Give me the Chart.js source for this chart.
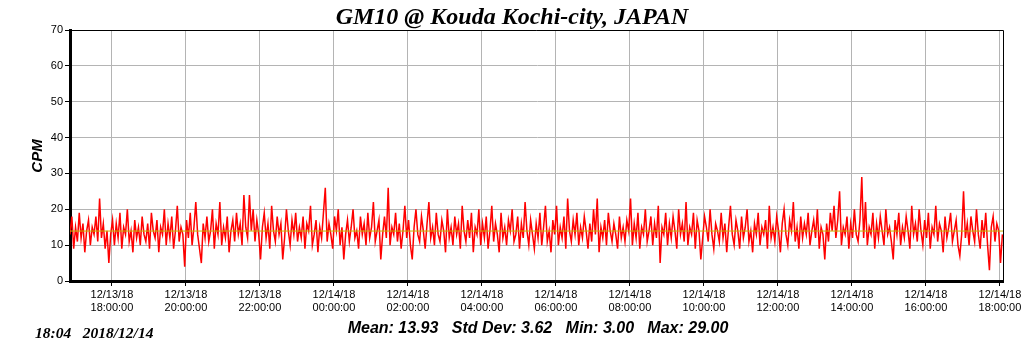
<!DOCTYPE html>
<html>
<head>
<meta charset="utf-8">
<script src="https://cdn.jsdelivr.net/npm/chart.js@4"></script>
<style>
  html, body { margin: 0; padding: 0; background: #fff; }
  #wrap { width: 1024px; height: 351px; }
</style>
</head>
<body>
<div id="wrap"><canvas id="cpmChart" width="1024" height="351"></canvas></div>
<script>
// minutes relative to 12/13/18 18:00:00, one reading every 3 minutes
const startMinute = -68;
const stepMinutes = 3;
const cpmValues = [
  13,18,9,15,11,19,12,16,8,14,17,10,15,13,18,11,23,12,16,9,14,5,13,17,10,
  16,12,19,9,15,13,20,11,14,8,17,12,15,10,18,13,11,16,9,19,14,12,17,8,15,
  13,20,10,16,12,18,9,14,21,11,15,13,4,17,12,19,10,15,22,13,9,5,16,12,18,
  11,14,20,9,16,13,22,10,15,12,18,8,14,17,11,19,13,16,10,24,15,12,24,14,20,
  11,17,13,6,15,19,12,16,9,21,14,11,18,13,16,6,12,20,14,10,17,13,19,11,15,
  12,18,9,16,14,21,10,13,17,8,15,12,19,26,11,16,13,9,18,14,20,10,15,6,13,
  17,11,15,20,12,14,9,18,13,16,10,19,12,15,22,11,14,17,6,13,18,12,26,10,15,
  13,19,11,16,9,14,21,12,17,10,6,15,20,13,11,18,14,9,16,22,12,15,10,19,13,
  11,17,14,8,20,12,15,10,18,13,16,9,21,14,11,17,12,19,8,15,13,20,10,16,12,
  18,9,14,21,11,16,13,8,19,12,15,10,17,14,20,11,13,18,9,16,12,22,14,10,17,
  13,9,16,12,19,10,15,21,11,14,8,17,13,21,10,15,12,18,9,23,14,11,17,13,19,
  10,15,12,18,14,9,16,11,20,13,23,8,15,12,17,10,19,14,11,16,13,9,18,12,15,
  11,17,14,23,10,16,12,19,9,15,13,20,11,14,18,10,16,12,21,5,15,13,19,10,16,
  12,18,14,9,20,13,16,11,22,10,15,13,19,9,17,14,6,12,18,15,11,20,13,9,16,
  14,11,19,12,16,8,15,21,13,10,17,14,9,18,12,15,20,11,14,8,16,13,19,10,15,
  13,17,9,21,12,15,11,18,14,8,16,20,13,10,17,14,22,11,15,9,18,12,16,13,19,
  10,14,17,12,20,9,15,13,6,16,11,19,14,21,12,17,25,10,15,13,18,9,16,12,20,
  13,11,17,29,12,22,10,15,13,19,9,16,12,18,14,10,20,13,15,11,6,17,13,19,10,
  15,12,18,14,9,21,13,16,11,20,14,10,17,12,19,9,15,13,21,11,16,14,8,18,12,
  15,19,11,14,17,10,7,13,25,12,16,10,18,14,11,20,13,9,17,12,19,10,3,15,18,
  11,16,14,5,13
];
const meanValue = 13.93;
const tickMinutes = [0, 120, 240, 360, 480, 600, 720, 840, 960, 1080, 1200, 1320, 1440];
const tickLabels = [
  ["12/13/18", "18:00:00"], ["12/13/18", "20:00:00"], ["12/13/18", "22:00:00"],
  ["12/14/18", "00:00:00"], ["12/14/18", "02:00:00"], ["12/14/18", "04:00:00"],
  ["12/14/18", "06:00:00"], ["12/14/18", "08:00:00"], ["12/14/18", "10:00:00"],
  ["12/14/18", "12:00:00"], ["12/14/18", "14:00:00"], ["12/14/18", "16:00:00"],
  ["12/14/18", "18:00:00"]
];
const xMin = -68;
const xMax = 1445;
const titleText = "GM10 @ Kouda Kochi-city, JAPAN";
const stampText = "18:04   2018/12/14";
const statsText = "Mean: 13.93   Std Dev: 3.62   Min: 3.00   Max: 29.00";

const points = cpmValues.map((v, i) => ({ x: startMinute + i * stepMinutes, y: v }));

Chart.defaults.font.family = '"Liberation Sans", Arial, sans-serif';
Chart.defaults.font.size = 11;
Chart.defaults.color = "#000";

// title, frame and text under the chart
const decor = {
  id: "decor",
  afterDraw(chart) {
    const ctx = chart.ctx;
    const a = chart.chartArea;
    ctx.save();
    ctx.strokeStyle = "#000";
    ctx.lineWidth = 1;
    ctx.beginPath();
    ctx.moveTo(a.left, a.top + 0.5);
    ctx.lineTo(a.right + 0.5, a.top + 0.5);
    ctx.lineTo(a.right + 0.5, a.bottom);
    ctx.stroke();

    ctx.fillStyle = "#000";
    ctx.textBaseline = "alphabetic";
    ctx.textAlign = "center";
    ctx.font = 'bold italic 24px "Liberation Serif"';
    ctx.fillText(titleText, 512, 24);

    ctx.font = 'bold italic 16px "Liberation Sans"';
    ctx.fillText(statsText, 538, 333);

    ctx.textAlign = "left";
    ctx.font = 'bold italic 15.5px "Liberation Serif"';
    ctx.fillText(stampText, 35, 338);

    ctx.translate(38, 156);
    ctx.rotate(-Math.PI / 2);
    ctx.textAlign = "center";
    ctx.textBaseline = "middle";
    ctx.font = 'bold italic 15px "Liberation Sans"';
    ctx.fillText("CPM", 0, 0);
    ctx.restore();
  }
};

new Chart(document.getElementById("cpmChart"), {
  type: "line",
  data: {
    datasets: [
      {
        data: [{ x: xMin, y: meanValue }, { x: xMax, y: meanValue }],
        borderColor: "rgb(200,180,0)",
        borderWidth: 1,
        pointRadius: 0,
        order: 0
      },
      {
        data: points,
        borderColor: "#ff0000",
        borderWidth: 1.5,
        pointRadius: 0,
        tension: 0,
        order: 1
      }
    ]
  },
  options: {
    responsive: false,
    animation: false,
    layout: { padding: { top: 30, right: 21, left: 0, bottom: 0 } },
    plugins: { legend: { display: false }, tooltip: { enabled: false } },
    scales: {
      x: {
        type: "linear",
        min: xMin,
        max: xMax,
        afterBuildTicks: scale => { scale.ticks = tickMinutes.map(v => ({ value: v })); },
        afterFit: scale => { scale.height = 70; },
        ticks: {
          autoSkip: false,
          maxRotation: 0,
          padding: 2,
          callback: v => tickLabels[tickMinutes.indexOf(v)] || ""
        },
        grid: { color: "#b4b4b4", tickColor: "#000", tickLength: 5 },
        border: { color: "#000", width: 3 }
      },
      y: {
        min: 0,
        max: 70,
        afterFit: scale => { scale.width = 70; },
        ticks: { stepSize: 10, padding: 2 },
        grid: { color: "#b4b4b4", tickColor: "#000", tickLength: 5 },
        border: { color: "#000", width: 3 }
      }
    }
  },
  plugins: [decor]
});
</script>
</body>
</html>
